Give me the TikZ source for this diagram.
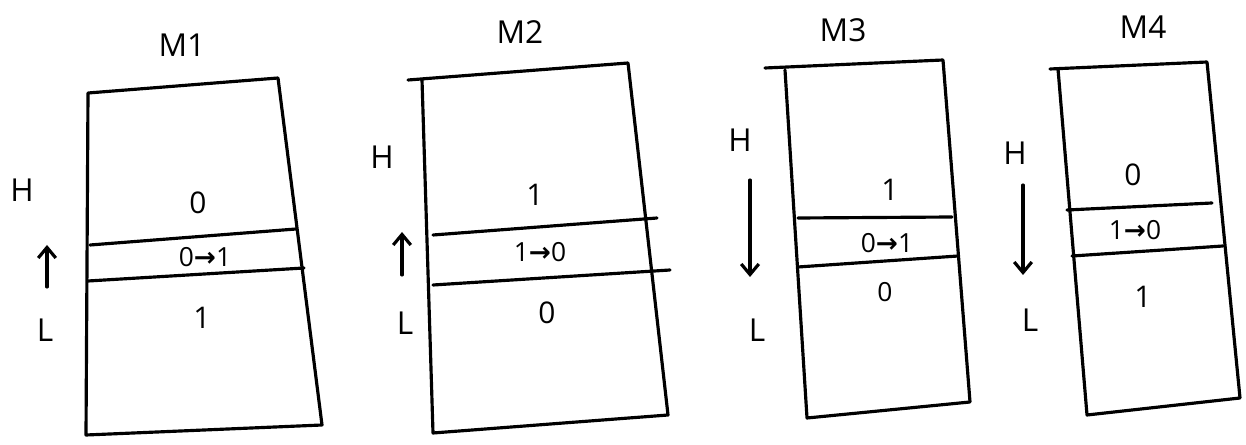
\documentclass[tikz,border=0pt]{standalone}
\usepackage{fontspec}
\setmainfont{Open Sans}
\newfontfamily\arrowfont{DejaVu Sans}
\usetikzlibrary{arrows.meta}

\newcommand{\flipto}{{\arrowfont\bfseries →}}

\tikzset{
  pen/.style={line width=1.8pt, line cap=round, line join=round},
  lbl/.style={font=\fontsize{18}{21}\selectfont, inner sep=1pt},
  bit/.style={font=\fontsize{17}{20}\selectfont, inner sep=1pt},
  flip/.style={font=\fontsize{15}{18}\selectfont, inner sep=1pt},
  dir/.style={pen, -{Straight Barb[length=6pt,width=10pt]}},
}

\begin{document}
\begin{tikzpicture}[x=0.02cm, y=-0.02cm]
			\useasboundingbox (0,0) rectangle (1246,445);
			
			%%%%% M1 %%%%%
			\node[lbl] (m1) at (182,45) {M1};
			\draw[pen] (88,93) -- (278,78) -- (322,425) -- (86,435) -- cycle;
			\draw[pen] (90,245) -- (296,229);
			\draw[pen] (88,281) -- (304,268);
			\node[bit] (m1hi) at (198,203) {0};
			\node[flip] (m1mid) at (205,257) {0\flipto1};
			\node[bit] (m1lo) at (202,318) {1};
			\node[lbl] (m1h) at (22,190) {H};
			\node[lbl] (m1l) at (45,330) {L};
			\draw[dir] (47,287) -- (47,245);
			
			%%%%% M2 %%%%%
			\node[lbl] (m2) at (520,32) {M2};
			\draw[pen] (408,80) -- (628,63) -- (668,415) -- (433,433) -- (422,80);
			\draw[pen] (433,235) -- (657,218);
			\draw[pen] (433,285) -- (670,270);
			\node[bit] (m2hi) at (535,195) {1};
			\node[flip] (m2mid) at (540,252) {1\flipto0};
			\node[bit] (m2lo) at (547,313) {0};
			\node[lbl] (m2h) at (382,157) {H};
			\node[lbl] (m2l) at (405,323) {L};
			\draw[dir] (402,275) -- (402,232);
			
			%%%%% M3 %%%%%
			\node[lbl] (m3) at (843,30) {M3};
			\draw[pen] (765,68) -- (943,60) -- (970,402) -- (807,418) -- (785,70);
			\draw[pen] (798,218) -- (952,217);
			\draw[pen] (798,267) -- (958,256);
			\node[bit] (m3hi) at (890,190) {1};
			\node[flip] (m3mid) at (887,243) {0\flipto1};
			\node[flip] (m3lo) at (885,292) {0};
			\node[lbl] (m3h) at (740,140) {H};
			\node[lbl] (m3l) at (757,330) {L};
			\draw[dir] (750,180) -- (750,277);
			
			%%%%% M4 %%%%%
			\node[lbl] (m4) at (1143,27) {M4};
			\draw[pen] (1050,69) -- (1207,62) -- (1240,398) -- (1087,415) -- (1058,69);
			\draw[pen] (1067,210) -- (1212,203);
			\draw[pen] (1072,256) -- (1223,246);
			\node[bit] (m4hi) at (1133,175) {0};
			\node[flip] (m4mid) at (1135,230) {1\flipto0};
			\node[bit] (m4lo) at (1143,297) {1};
			\node[lbl] (m4h) at (1015,153) {H};
			\node[lbl] (m4l) at (1030,320) {L};
			\draw[dir] (1023,185) -- (1023,275);
			
			%%%%% END %%%%%
\end{tikzpicture}
\end{document}
